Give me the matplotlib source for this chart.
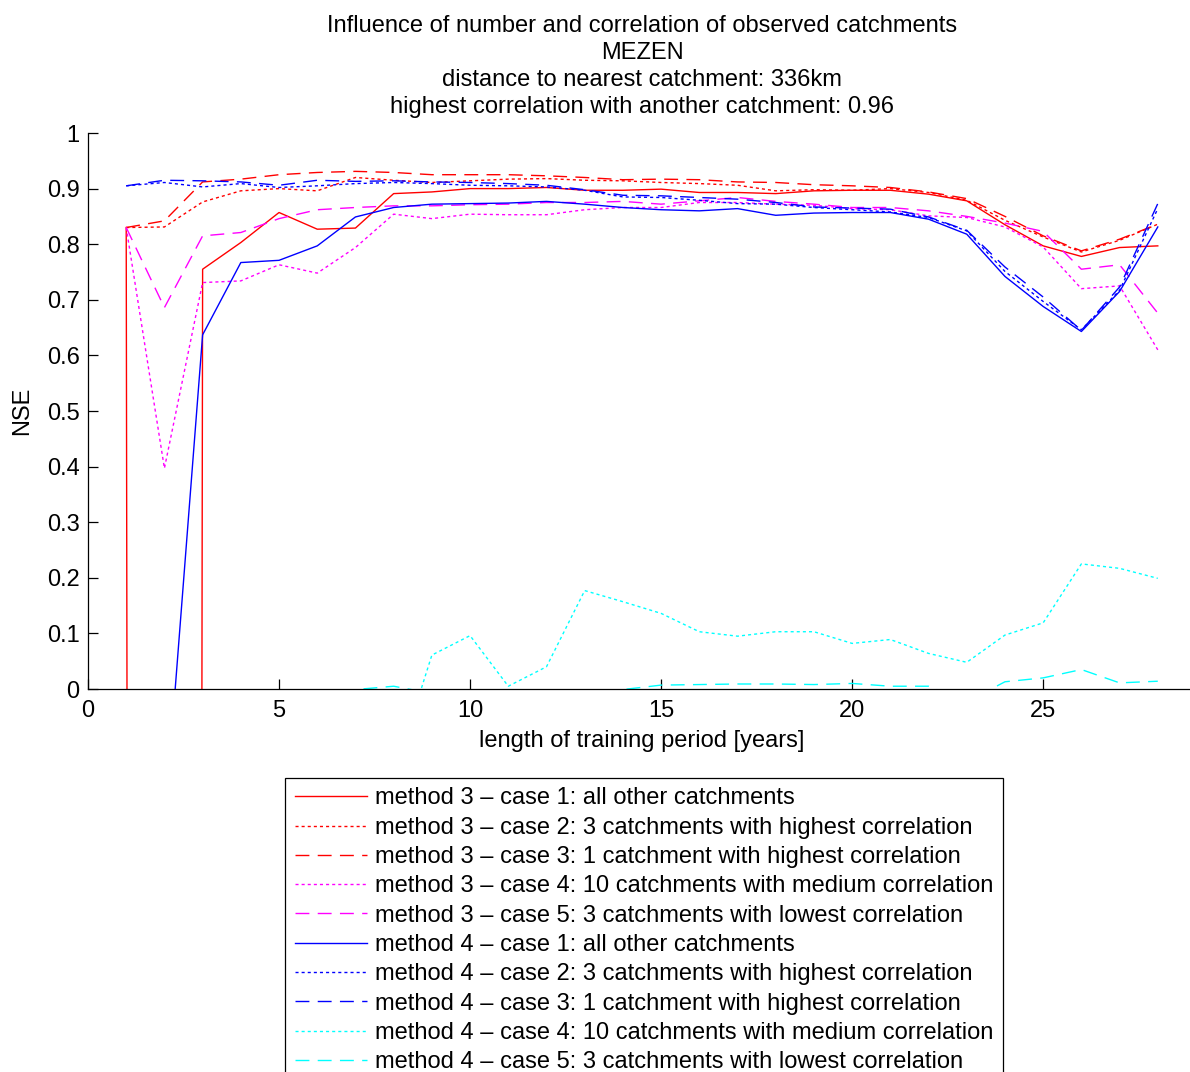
import numpy as np
import matplotlib
matplotlib.use("Agg")
import matplotlib.pyplot as plt

# ----- data: NSE per length of training period -----

years = list(range(1, 29))

m3_case1 = [0.830, -40.0, 0.755, 0.803, 0.857, 0.827, 0.829, 0.891, 0.894, 0.900,
            0.900, 0.902, 0.897, 0.897, 0.899, 0.893, 0.893, 0.891, 0.896, 0.897,
            0.897, 0.890, 0.878, 0.835, 0.797, 0.778, 0.794, 0.797]
m3_case2 = [0.830, 0.831, 0.876, 0.896, 0.900, 0.896, 0.920, 0.915, 0.911, 0.914,
            0.917, 0.918, 0.915, 0.914, 0.911, 0.909, 0.906, 0.896, 0.898, 0.897,
            0.900, 0.893, 0.879, 0.843, 0.813, 0.786, 0.807, 0.836]
m3_case3 = [0.830, 0.842, 0.912, 0.917, 0.925, 0.929, 0.931, 0.929, 0.925, 0.925,
            0.925, 0.923, 0.920, 0.916, 0.917, 0.916, 0.912, 0.911, 0.907, 0.905,
            0.902, 0.894, 0.882, 0.850, 0.815, 0.788, 0.809, 0.836]
m3_case4 = [0.830, 0.397, 0.731, 0.734, 0.763, 0.748, 0.794, 0.854, 0.846, 0.854,
            0.853, 0.853, 0.862, 0.866, 0.866, 0.875, 0.875, 0.872, 0.870, 0.864,
            0.862, 0.851, 0.848, 0.831, 0.795, 0.720, 0.725, 0.610]
m3_case5 = [0.830, 0.686, 0.815, 0.821, 0.846, 0.862, 0.866, 0.869, 0.869, 0.871,
            0.872, 0.875, 0.875, 0.877, 0.872, 0.878, 0.884, 0.877, 0.872, 0.866,
            0.866, 0.860, 0.850, 0.838, 0.823, 0.755, 0.763, 0.676]
m4_case1 = [-1.200, -0.250, 0.637, 0.767, 0.771, 0.797, 0.849, 0.866, 0.872, 0.873,
            0.874, 0.877, 0.872, 0.866, 0.862, 0.860, 0.864, 0.852, 0.856, 0.857,
            0.857, 0.845, 0.818, 0.742, 0.688, 0.643, 0.715, 0.831]
m4_case2 = [0.905, 0.911, 0.903, 0.909, 0.902, 0.905, 0.909, 0.911, 0.909, 0.906,
            0.905, 0.903, 0.897, 0.885, 0.884, 0.879, 0.873, 0.872, 0.866, 0.862,
            0.858, 0.848, 0.824, 0.751, 0.697, 0.646, 0.717, 0.864]
m4_case3 = [0.905, 0.915, 0.914, 0.912, 0.906, 0.915, 0.913, 0.914, 0.912, 0.911,
            0.909, 0.906, 0.898, 0.888, 0.887, 0.884, 0.881, 0.875, 0.867, 0.865,
            0.863, 0.849, 0.825, 0.759, 0.705, 0.645, 0.723, 0.873]
m4_case4 = [-1.000, -0.800, -0.600, -0.400, -0.300, -0.250, -0.200, -0.157, 0.061, 0.096,
            0.005, 0.040, 0.177, 0.157, 0.136, 0.103, 0.095, 0.103, 0.103, 0.082,
            0.089, 0.064, 0.048, 0.097, 0.119, 0.225, 0.217, 0.199]
m4_case5 = [-0.600, -0.400, -0.300, -0.200, -0.100, -0.050, -0.001, 0.005, -0.008, -0.020,
            -0.030, -0.030, -0.020, -0.001, 0.007, 0.008, 0.009, 0.009, 0.008, 0.010,
            0.005, 0.005, -0.023, 0.013, 0.020, 0.035, 0.011, 0.014]

labels = [
    "method 3 \u2013 case 1: all other catchments",
    "method 3 \u2013 case 2: 3 catchments with highest correlation",
    "method 3 \u2013 case 3: 1 catchment with highest correlation",
    "method 3 \u2013 case 4: 10 catchments with medium correlation",
    "method 3 \u2013 case 5: 3 catchments with lowest correlation",
    "method 4 \u2013 case 1: all other catchments",
    "method 4 \u2013 case 2: 3 catchments with highest correlation",
    "method 4 \u2013 case 3: 1 catchment with highest correlation",
    "method 4 \u2013 case 4: 10 catchments with medium correlation",
    "method 4 \u2013 case 5: 3 catchments with lowest correlation",
]

station = "MEZEN"
dist_km = 336
best_corr = 0.96

# ----- estilo -----
plt.rcParams['font.family'] = ['Liberation Sans', 'DejaVu Sans']
plt.rcParams['font.size'] = 17

solido = '-'
punteado = (0, (2.2, 2.2))
rayado = (0, (10, 6))

series = [
    (m3_case1, '#ff0000', solido),
    (m3_case2, '#ff0000', punteado),
    (m3_case3, '#ff0000', rayado),
    (m3_case4, '#ff00ff', punteado),
    (m3_case5, '#ff00ff', rayado),
    (m4_case1, '#0000ff', solido),
    (m4_case2, '#0000ff', punteado),
    (m4_case3, '#0000ff', rayado),
    (m4_case4, '#00ffff', punteado),
    (m4_case5, '#00ffff', rayado),
]

fig = plt.figure(figsize=(11.9, 10.72), dpi=100)
ax = fig.add_axes([88 / 1190, 1 - 689 / 1072, (1196 - 88) / 1190, (689 - 133) / 1072])

for (vals, color, ls), lab in zip(series, labels):
    ax.plot(years, vals, color=color, linestyle=ls, linewidth=1.0, label=lab)

ax.set_xlim(0, 29)
ax.set_ylim(0, 1)
ax.set_xticks([0, 5, 10, 15, 20, 25])
ax.set_yticks(np.round(np.arange(0, 1.01, 0.1), 1))
ax.set_yticklabels(["0", "0.1", "0.2", "0.3", "0.4", "0.5", "0.6", "0.7", "0.8", "0.9", "1"])
ax.tick_params(direction='in', length=7.5, width=0.9, pad=6)
ax.tick_params(axis='x', pad=8)

for lado in ['top', 'right']:
    ax.spines[lado].set_visible(False)
for lado in ['left', 'bottom']:
    ax.spines[lado].set_linewidth(0.9)

ax.set_xlabel("length of training period [years]", labelpad=6)
ax.set_ylabel("NSE", labelpad=10)

titulo = ("Influence of number and correlation of observed catchments\n"
          f"{station}\n"
          f"distance to nearest catchment: {dist_km}km\n"
          f"highest correlation with another catchment: {best_corr:.2f}")
fig.text(642 / 1190, 1 - 15 / 1072, titulo, ha='center', va='top', linespacing=1.30)

leg = fig.legend(loc='upper center', bbox_to_anchor=(644 / 1190, 1 - 778 / 1072),
                 frameon=True, fancybox=False, framealpha=1, edgecolor='black',
                 handlelength=3.05, handletextpad=0.34, labelspacing=0.31,
                 borderpad=0.4, borderaxespad=0)
leg.get_frame().set_linewidth(0.9)

fig.savefig("out.png", dpi=100)
